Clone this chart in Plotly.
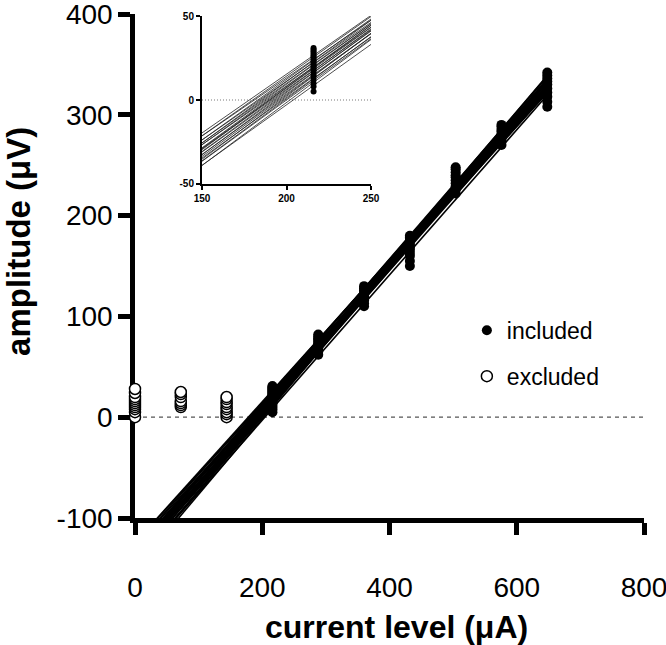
import plotly.graph_objects as go

# ---------------- data ----------------
levels_included = [216, 288, 360, 432, 504, 576, 648]
amp_216 = [5, 8, 10, 12, 14, 15, 17, 18, 19, 20, 21, 22, 23, 24, 25, 26, 27, 28, 29, 30, 31]
amp_288 = [62, 65, 68, 70, 72, 73, 75, 77, 78, 80, 82]
amp_360 = [110, 113, 116, 118, 120, 122, 124, 126, 128, 130]
amp_432 = [150, 155, 160, 163, 166, 168, 170, 172, 175, 178, 180]
amp_504 = [222, 226, 229, 232, 235, 238, 240, 243, 246, 248]
amp_576 = [270, 274, 277, 280, 283, 285, 288, 290]
amp_648 = [308, 313, 318, 322, 326, 330, 333, 336, 339, 342]
amps_included = [amp_216, amp_288, amp_360, amp_432, amp_504, amp_576, amp_648]

levels_excluded = [0, 72, 144]
amp_0 = [0, 5, 8, 10, 12, 14, 16, 18, 20, 24, 28]
amp_72 = [10, 12, 14, 16, 20, 23, 25]
amp_144 = [0, 3, 5, 8, 10, 13, 15, 18, 20]
amps_excluded = [amp_0, amp_72, amp_144]

# per-subject linear fits: threshold (x-intercept, uA) and slope (uV/uA)
thresholds = [178, 180, 181, 183, 184, 185, 186, 187, 188, 189, 190, 190,
              191, 192, 193, 194, 195, 196, 197, 198, 199, 200, 202, 204]
slopes = [0.70, 0.71, 0.69, 0.72, 0.70, 0.73, 0.71, 0.72, 0.70, 0.73, 0.72, 0.74,
          0.71, 0.73, 0.72, 0.74, 0.72, 0.73, 0.75, 0.72, 0.74, 0.73, 0.75, 0.72]
fit_x = [0, 648]

x_ticks = [0, 200, 400, 600, 800]
x_tick_labels = ["0", "200", "400", "600", "800"]
y_ticks = [-100, 0, 100, 200, 300, 400]
y_tick_labels = ["-100", "0", "100", "200", "300", "400"]
inset_x_ticks = [150, 200, 250]
inset_x_labels = ["150", "200", "250"]
inset_y_ticks = [-50, 0, 50]
inset_y_labels = ["-50", "0", "50"]

FONT = "Arial, Liberation Sans, Helvetica, sans-serif"

fig = go.Figure()

# fitted lines (main + inset)
for x0, s in zip(thresholds, slopes):
    ys = [s * (x - x0) for x in fit_x]
    fig.add_trace(go.Scatter(x=fit_x, y=ys, mode="lines",
                             line=dict(color="black", width=1.6),
                             showlegend=False, hoverinfo="skip"))
for x0, s in zip(thresholds, slopes):
    ys = [s * (x - x0) for x in fit_x]
    fig.add_trace(go.Scatter(x=fit_x, y=ys, mode="lines",
                             line=dict(color="#222222", width=0.8),
                             xaxis="x2", yaxis="y2",
                             showlegend=False, hoverinfo="skip"))

# points
inc_x = [lv for lv, a in zip(levels_included, amps_included) for _ in a]
inc_y = [v for a in amps_included for v in a]
exc_x = [lv for lv, a in zip(levels_excluded, amps_excluded) for _ in a]
exc_y = [v for a in amps_excluded for v in a]

fig.add_trace(go.Scatter(x=inc_x, y=inc_y, mode="markers", name="included",
                         marker=dict(color="black", size=10, line=dict(width=0)),
                         cliponaxis=False, legendgroup="a"))
fig.add_trace(go.Scatter(x=exc_x, y=exc_y, mode="markers", name="excluded",
                         marker=dict(color="white", size=11,
                                     line=dict(color="black", width=1.5)),
                         cliponaxis=False, legendgroup="b"))
fig.add_trace(go.Scatter(x=inc_x, y=inc_y, mode="markers",
                         marker=dict(color="black", size=6, line=dict(width=0)),
                         xaxis="x2", yaxis="y2", cliponaxis=True,
                         showlegend=False, hoverinfo="skip"))

fig.update_layout(
    width=666, height=645,
    margin=dict(l=135, r=22, t=14, b=127, autoexpand=False),
    plot_bgcolor="white", paper_bgcolor="white",
    font=dict(family=FONT, color="black"),
    showlegend=True,
    legend=dict(x=0.652, y=0.415, xanchor="left", yanchor="top",
                font=dict(size=23, family=FONT, color="black"),
                traceorder="grouped", tracegroupgap=13,
                bgcolor="rgba(0,0,0,0)"),
    xaxis=dict(range=[0, 800], domain=[0, 1], tickvals=x_ticks, ticktext=x_tick_labels,
               showline=True, linewidth=4.5, linecolor="black",
               ticks="outside", ticklen=12, tickwidth=4.5, tickcolor="black",
               tickfont=dict(size=28, family=FONT), ticklabelstandoff=29,
               ticklabeloverflow="allow",
               showgrid=False, zeroline=False, layer="below traces", automargin=False),
    yaxis=dict(range=[-100, 400], domain=[0, 1], tickvals=y_ticks, ticktext=y_tick_labels,
               showline=True, linewidth=4.5, linecolor="black",
               ticks="outside", ticklen=12, tickwidth=4.5, tickcolor="black",
               tickfont=dict(size=28, family=FONT), ticklabelstandoff=0,
               ticklabeloverflow="allow",
               showgrid=False, zeroline=False, layer="below traces", automargin=False),
    xaxis2=dict(range=[150, 250], domain=[0.1316, 0.4637], anchor="y2",
                tickvals=inset_x_ticks, ticktext=inset_x_labels,
                showline=True, linewidth=2, linecolor="black",
                ticks="outside", ticklen=4, tickwidth=2, tickcolor="black",
                tickfont=dict(size=10, family=FONT, weight="bold"),
                showgrid=False, zeroline=False, automargin=False),
    yaxis2=dict(range=[-50, 50], domain=[0.6627, 0.996], anchor="x2",
                tickvals=inset_y_ticks, ticktext=inset_y_labels,
                showline=True, linewidth=2, linecolor="black",
                ticks="outside", ticklen=4, tickwidth=2, tickcolor="black",
                tickfont=dict(size=10, family=FONT, weight="bold"),
                showgrid=False, zeroline=False, automargin=False),
    shapes=[
        dict(type="line", xref="x", yref="y", x0=0, x1=800, y0=0, y1=0,
             line=dict(color="#555555", width=1.3, dash="4px,4px"), layer="below"),
        dict(type="line", xref="x2", yref="y2", x0=150, x1=250, y0=0, y1=0,
             line=dict(color="#777777", width=1, dash="1px,2px"), layer="below"),
    ],
    annotations=[
        dict(text="<b>current level (μA)</b>", xref="paper", yref="paper",
             x=0.513, y=-0.2163, xanchor="center", yanchor="middle",
             showarrow=False, font=dict(size=32, family=FONT, color="black")),
        dict(text="<b>amplitude (μV)</b>", xref="paper", yref="paper",
             x=-0.23, y=0.5496, xanchor="center", yanchor="middle", textangle=-90,
             showarrow=False, font=dict(size=33, family=FONT, color="black")),
    ],
)

fig.write_html("out.html",
               config={"displayModeBar": False},
               post_script="document.body.style.margin='0';"
                           "document.documentElement.style.overflow='hidden';")
